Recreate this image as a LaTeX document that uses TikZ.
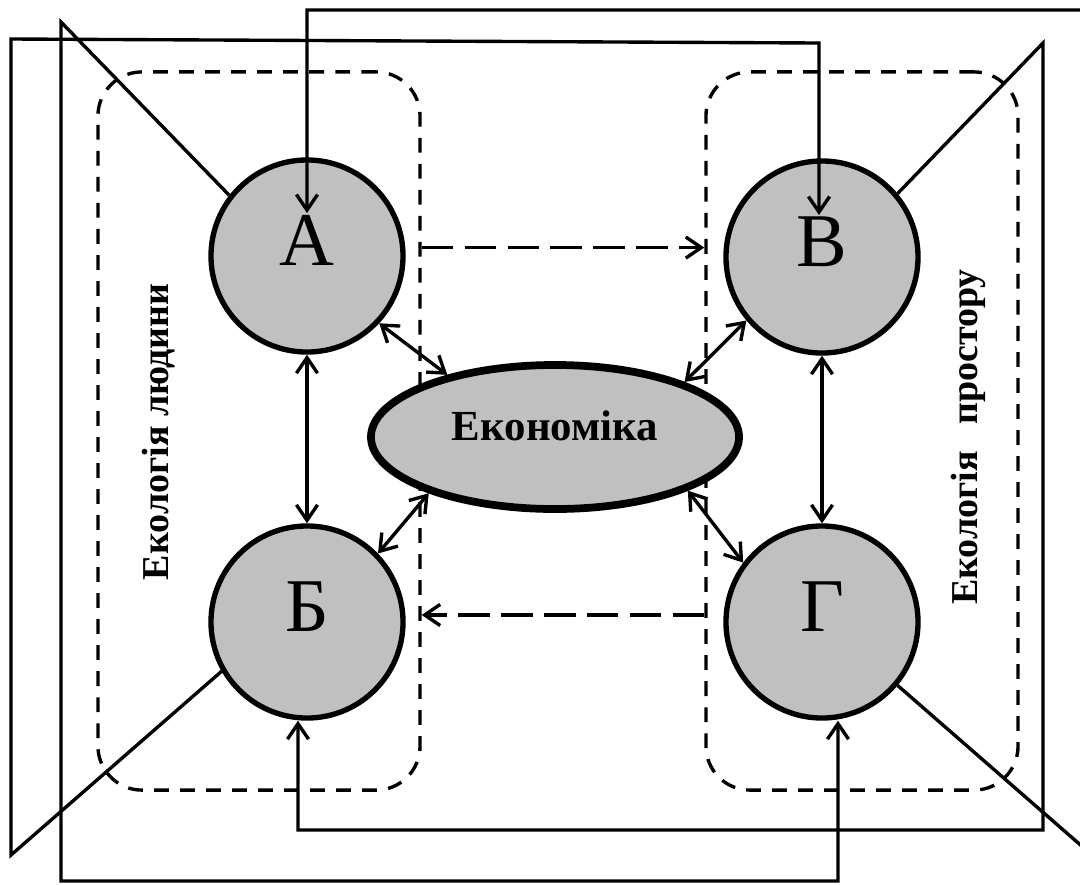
\documentclass[tikz,border=0pt]{standalone}
\usepackage{fontspec}
\setmainfont{Liberation Serif}
\usetikzlibrary{arrows.meta,shapes.geometric}
\definecolor{fillgray}{RGB}{192,192,192}

\begin{document}
\begin{tikzpicture}[x=0.025cm, y=-0.025cm,
  >={Straight Barb[length=11pt,width=15pt]},
  sector/.style={circle, draw, line width=3.8pt, fill=fillgray, minimum size=4.8cm, inner sep=0pt,
    font=\fontsize{54}{60}\selectfont, text height=35pt, text depth=22pt},
  core/.style={ellipse, draw, line width=5.5pt, fill=fillgray, minimum width=9.2cm, minimum height=3.6cm,
    inner sep=0pt, font=\bfseries\fontsize{30.5}{34}\selectfont, text height=20pt, text depth=15pt},
  area/.style={draw, line width=2.4pt, dash pattern=on 10.5pt off 8pt, rounded corners=1.1cm,
    minimum height=17.95cm, inner sep=0pt},
  side/.style={rotate=90, font=\bfseries\fontsize{27}{30}\selectfont},
  link/.style={<->, line width=2.4pt},
  wire/.style={line width=2.4pt},
  flow/.style={->, line width=2.4pt, dash pattern=on 22.5pt off 8pt}]

\useasboundingbox (0,0) rectangle (1080,884);

\node[area, minimum width=8.05cm] (human) at (259,431) {};
\node[area, minimum width=7.8cm] (space) at (862,431) {};
\node[side] (humanlbl) at (159,432) {Екологія людини};
\node[side] (spacelbl) at (968,437) {Екологія\hspace{0.7em}простору};

\node[sector] (a) at (307,256) {А};
\node[sector] (v) at (822,257) {В};
\node[sector] (b) at (307,622) {Б};
\node[sector] (g) at (822,622) {Г};
\node[core] (eco) at (555,437) {Економіка};

\draw[link] (a.south) -- (b.north);
\draw[link] (v.south) -- (g.north);
\draw[link] (a.-43) -- (eco.150);
\draw[link] (v.220) -- (eco.23);
\draw[link] (b.44) -- (eco.204);
\draw[link] (g.143) -- (eco.-22);

\draw[flow] ([yshift=6pt]human.east |- a) -- ([yshift=6pt]space.west |- a);
\draw[flow] ([yshift=5pt]space.west |- g) -- ([yshift=5pt]human.east |- g);

\coordinate (lt) at (61,22);
\coordinate (lb) at (61,881);
\coordinate (gin) at (838,881);
\coordinate (rt) at (1043,43);
\coordinate (rb) at (1043,830);
\coordinate (bin) at (298,830);
\coordinate (llb) at (11,855);
\coordinate (llt) at (11,39);
\coordinate (vtop) at (819,43);
\coordinate (vtip) at (819,215);
\coordinate (atop) at (307,10);
\coordinate (atip) at (307,213);

\draw[wire, ->] (a.142) -- (lt) -- (lb) -- (gin) -- (g.south -| gin);
\draw[wire, ->] (v.40) -- (rt) -- (rb) -- (bin) -- (b.south -| bin);
\draw[wire, ->] (b.210) -- (llb) -- (llt) -- (vtop) -- (vtip);
\begin{scope}
\clip (0,0) rectangle (1080,884);
\draw[wire, ->] (g.-40) -- (1100,862) -- (1100,10) -- (atop) -- (atip);
\end{scope}

\end{tikzpicture}
\end{document}
